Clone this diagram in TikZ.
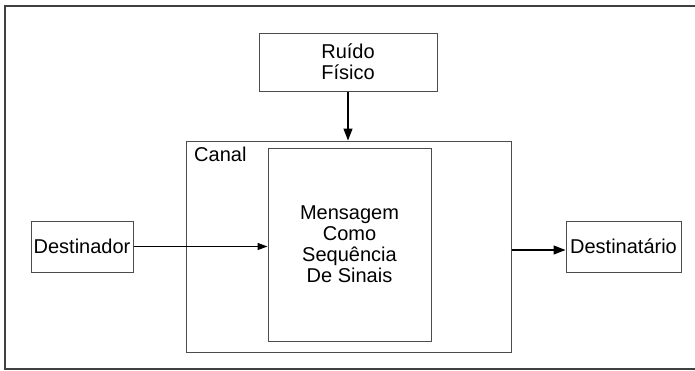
\documentclass[tikz,border=0pt]{standalone}
\usepackage{fontspec}
\setmainfont{Liberation Sans}
\usetikzlibrary{arrows.meta}
\begin{document}
\begin{tikzpicture}[x=1pt,y=-1pt,
  box/.style={draw=black!70,line width=1pt,rectangle,inner sep=0pt,align=center,
    font=\fontsize{20}{21}\selectfont},
  arr/.style={draw=black,line width=1.3pt,-{Triangle[length=12pt,width=9pt]}},
  sarr/.style={draw=black,line width=1.1pt,-{Triangle[length=10pt,width=7pt]}}]
\useasboundingbox (0,0) rectangle (695,370);
% outer frame
\draw[black!75,line width=2pt] (720,6) -- (5,6) -- (5,369) -- (720,369);
% boxes
\node[box,minimum width=178pt,minimum height=58pt] (ruido) at (348,62) {Ruído\\Físico};
\node[box,minimum width=325pt,minimum height=211pt] (canal) at (348.5,246.5) {};
\node[font=\fontsize{20}{21}\selectfont,anchor=north west,inner sep=0pt] (canallbl) at (194,147) {Canal};
\node[box,minimum width=163pt,minimum height=193pt] (msg) at (349.5,244.5) {Mensagem\\Como\\Sequência\\De Sinais};
\node[box,minimum width=102pt,minimum height=51pt] (dor) at (82,246.5) {Destinador};
\node[box,minimum width=115pt,minimum height=51pt] (tario) at (623.5,246.5) {Destinatário};
% connectors
\coordinate (c1) at (canal.east |- 0,250);
\coordinate (c2) at (tario.west |- 0,250);
\draw[arr] (ruido.south) -- (canal.north -| ruido.south);
\draw[sarr] (dor.east) -- (dor.east -| msg.west);
\draw[arr] (c1) -- (c2);
\end{tikzpicture}
\end{document}
